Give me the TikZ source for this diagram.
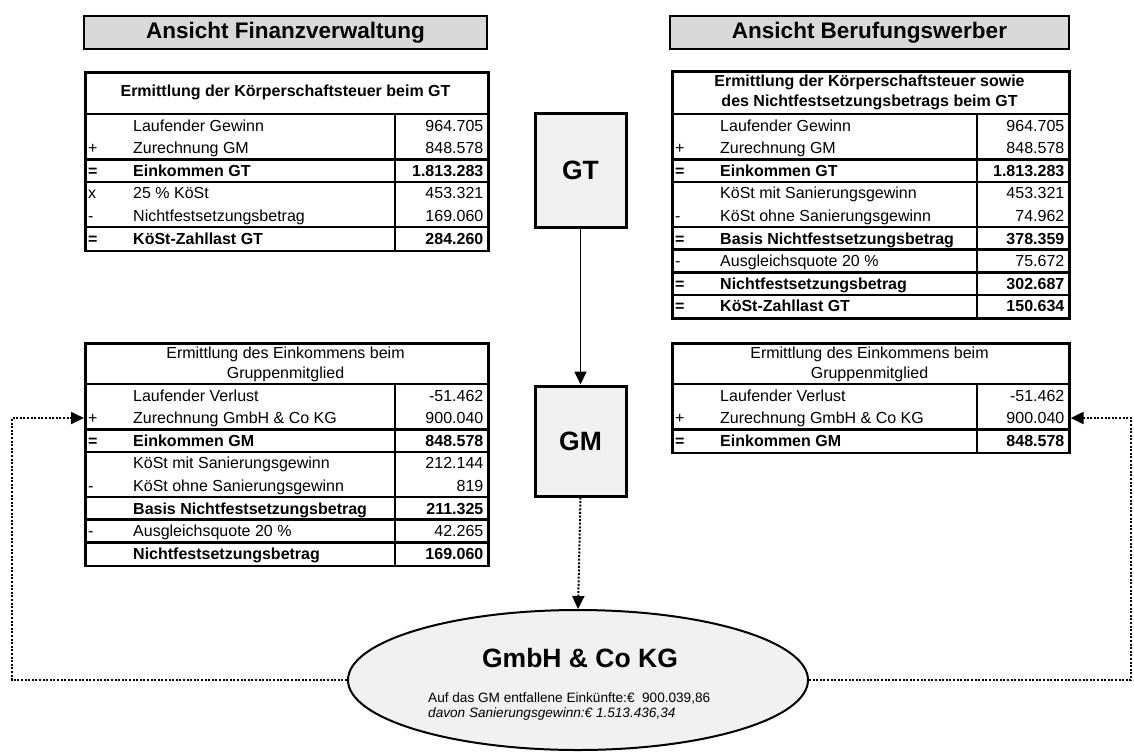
\documentclass[tikz,border=0pt]{standalone}
\usepackage{fontspec}
\setmainfont{Liberation Sans}
\usetikzlibrary{shapes.geometric,arrows.meta}
\definecolor{hdrgray}{HTML}{D9D9D9}
\definecolor{boxgray}{HTML}{F1F1F1}
\newcommand\rowh{22.6}
\tikzset{
  frame/.style={draw, line width=2.6pt, inner sep=0pt, anchor=north west},
  rule/.style={line width=2.6pt},
  cell/.style={inner sep=0pt, font=\fontsize{16}{19}\selectfont, text height=11.5pt, text depth=0pt},
  tabtitle/.style={inner sep=0pt, align=center, font=\fontsize{16}{20}\selectfont},
  header/.style={draw, line width=2.8pt, fill=hdrgray, inner sep=0pt, font=\bfseries\fontsize{22.5}{26}\selectfont},
  entity/.style={draw, line width=3pt, fill=boxgray, inner sep=0pt, font=\bfseries\fontsize{26.5}{30}\selectfont},
  company/.style={ellipse, draw, line width=2pt, fill=boxgray, inner sep=0pt},
  flowarrow/.style={line width=1.6pt, -{Triangle[length=13pt,width=12pt]}},
  dotarrow/.style={line width=2pt, dash pattern=on 2pt off 1.6pt, -{Triangle[length=13pt,width=12pt]}},
  small/.style={inner sep=0pt, anchor=west, font=\fontsize{13.6}{16}\selectfont},
}
% rows of a calculation table: #1 name, #2 left x, #3 right x, #4 top of first row, #5 rows
\newcommand\tablerows[5]{%
  \foreach \i/\p/\l/\v/\fw in {#5}{%
    \pgfmathsetmacro\yc{#4+(\i-0.5)*\rowh}%
    \node[cell,anchor=west] (#1-p\i) at (#2+4,\yc) {\fw\p};
    \node[cell,anchor=west] (#1-l\i) at (#2+49,\yc) {\fw\l};
    \node[cell,anchor=east] (#1-v\i) at (#3-3.5,\yc) {\fw\v};
  }}
% horizontal group rules: #1 left, #2 right, #3 top of first row, #4 row boundaries
\newcommand\tablerules[4]{%
  \foreach \k in {#4}{\draw[rule] (#1,#3+\k*\rowh) -- (#2,#3+\k*\rowh);}}
\begin{document}
\begin{tikzpicture}[x=1pt,y=-1pt]
\useasboundingbox (0,0) rectangle (1134,753);

% column headers
\node[header, minimum width=403pt, minimum height=33pt] (hfa) at (285.5,32.5) {Ansicht Finanzverwaltung};
\node[header, minimum width=399pt, minimum height=33pt] (hbw) at (869.5,32.5) {Ansicht Berufungswerber};

% corporate tax at the group parent, tax office view
\node[frame, minimum width=403pt, minimum height=178.6pt] (fa) at (84,71) {};
\node[tabtitle, font=\bfseries\fontsize{16}{20}\selectfont] (fa-t) at (285.5,92.5) {Ermittlung der Körperschaftsteuer beim GT};
\draw[rule] (84,114) -- (487,114);
\draw[rule] (395,114) -- (395,249.6);
\tablerules{84}{487}{114}{2,3,5}
\tablerows{fa}{84}{487}{114}{
 1/{}/Laufender Gewinn/964.705/{},
 2/+/Zurechnung GM/848.578/{},
 3/=/Einkommen GT/1.813.283/\bfseries,
 4/x/25 \% KöSt/453.321/{},
 5/-/Nichtfestsetzungsbetrag/169.060/{},
 6/=/KöSt-Zahllast GT/284.260/\bfseries}

% corporate tax at the group parent, appellant view
\node[frame, minimum width=397pt, minimum height=247.4pt] (bt) at (671,70) {};
\node[tabtitle, font=\bfseries\fontsize{16}{20}\selectfont] (bt-t) at (869.5,92) {Ermittlung der Körperschaftsteuer sowie\\des Nichtfestsetzungsbetrags beim GT};
\draw[rule] (671,114) -- (1068,114);
\draw[rule] (977,114) -- (977,317.4);
\tablerules{671}{1068}{114}{2,3,5,6,7,8}
\tablerows{bt}{671}{1068}{114}{
 1/{}/Laufender Gewinn/964.705/{},
 2/+/Zurechnung GM/848.578/{},
 3/=/Einkommen GT/1.813.283/\bfseries,
 4/{}/KöSt mit Sanierungsgewinn/453.321/{},
 5/-/KöSt ohne Sanierungsgewinn/74.962/{},
 6/=/Basis Nichtfestsetzungsbetrag/378.359/\bfseries,
 7/-/Ausgleichsquote 20 \%/75.672/{},
 8/=/Nichtfestsetzungsbetrag/302.687/\bfseries,
 9/=/KöSt-Zahllast GT/150.634/\bfseries}

% income of the group member, tax office view
\node[frame, minimum width=403pt, minimum height=222.8pt] (fgm) at (84,342) {};
\node[tabtitle] (fgm-t) at (285.5,364) {Ermittlung des Einkommens beim\\Gruppenmitglied};
\draw[rule] (84,384) -- (487,384);
\draw[rule] (395,384) -- (395,564.8);
\tablerules{84}{487}{384}{2,3,5,6,7}
\tablerows{fgm}{84}{487}{384}{
 1/{}/Laufender Verlust/-51.462/{},
 2/+/Zurechnung GmbH \& Co KG/900.040/{},
 3/=/Einkommen GM/848.578/\bfseries,
 4/{}/KöSt mit Sanierungsgewinn/212.144/{},
 5/-/KöSt ohne Sanierungsgewinn/819/{},
 6/{}/Basis Nichtfestsetzungsbetrag/211.325/\bfseries,
 7/-/Ausgleichsquote 20 \%/42.265/{},
 8/{}/Nichtfestsetzungsbetrag/169.060/\bfseries}

% income of the group member, appellant view
\node[frame, minimum width=397pt, minimum height=109.8pt] (bgm) at (671,342) {};
\node[tabtitle] (bgm-t) at (869.5,364) {Ermittlung des Einkommens beim\\Gruppenmitglied};
\draw[rule] (671,384) -- (1068,384);
\draw[rule] (977,384) -- (977,451.8);
\tablerules{671}{1068}{384}{2}
\tablerows{bgm}{671}{1068}{384}{
 1/{}/Laufender Verlust/-51.462/{},
 2/+/Zurechnung GmbH \& Co KG/900.040/{},
 3/=/Einkommen GM/848.578/\bfseries}

% group structure
\node[entity, minimum width=91pt, minimum height=114pt] (gt) at (580.5,170) {GT};
\node[entity, minimum width=91pt, minimum height=110pt] (gm) at (580.5,441) {GM};
\node[company, minimum width=460pt, minimum height=140pt] (kg) at (578,680) {};
\node[inner sep=0pt, font=\bfseries\fontsize{26.5}{30}\selectfont] (kg-t) at (580,658) {GmbH \& Co KG};
\node[small] (kg-a) at (428,698) {Auf das GM entfallene Einkünfte:€\ \ 900.039,86};
\node[small, font=\itshape\fontsize{13.6}{16}\selectfont] (kg-b) at (428,714) {davon Sanierungsgewinn:€ 1.513.436,34};

\coordinate (lc) at (12,418);
\coordinate (rc) at (1131,418);

\draw[flowarrow] (gt.south) -- (gm.north);
\draw[dotarrow] (gm.south) -- (kg.north);
\draw[dotarrow] (kg.west) -| (lc) -- (fgm.west |- lc);
\draw[dotarrow] (kg.east) -| (rc) -- (bgm.east |- rc);
\end{tikzpicture}
\end{document}
